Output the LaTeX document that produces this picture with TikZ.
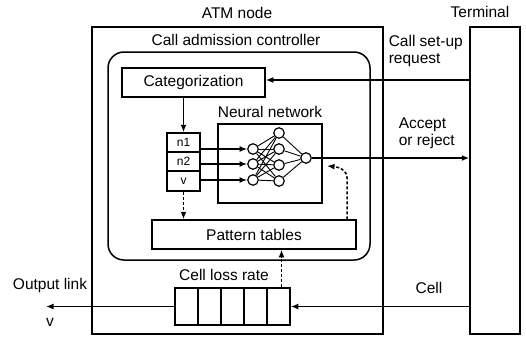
\documentclass[tikz,border=0pt]{standalone}
\usepackage{fontspec}
\setmainfont{Liberation Sans}
\usetikzlibrary{arrows.meta}
\begin{document}
\begin{tikzpicture}[x=1pt,y=-1pt,line width=1.5pt,
  txt/.style={font=\fontsize{15.5}{17}\selectfont,inner sep=0pt},
  small/.style={font=\fontsize{12}{13}\selectfont,inner sep=0pt},
  box/.style={draw,inner sep=0pt,minimum width=#1},
  neuron/.style={draw,circle,minimum size=10.5pt,inner sep=0pt,fill=white,line width=1.2pt},
  arr/.style={-{Latex[length=7.5pt,width=6pt]}},
  dsh/.style={dash pattern=on 3pt off 2pt},
  link/.style={line width=0.9pt}]
\useasboundingbox (0,0) rectangle (526,340);

% enclosing blocks
\node[box=291pt,minimum height=307pt] (atm) at (237.5,180.5) {};
\node[box=262pt,minimum height=208pt,rounded corners=16pt] (cac) at (239,156) {};
\node[box=50pt,minimum height=307pt] (term) at (495,180.5) {};

% titles
\node[txt] (atmlbl) at (237,13) {ATM node};
\node[txt] (caclbl) at (236,40) {Call admission controller};
\node[txt] (termlbl) at (480,12) {Terminal};

% inner blocks
\node[box=143pt,minimum height=29pt,txt] (cat) at (193.5,82.5) {Categorization};
\node[box=104pt,minimum height=79pt] (nn) at (270,163.5) {};
\node[txt] (nnlbl) at (270,112) {Neural network};
\node[box=204pt,minimum height=29pt,txt] (pat) at (254,234.5) {Pattern tables};

% parameter register
\node[box=33pt,minimum height=19pt,small] (reg1) at (183.5,142.5) {n1};
\node[box=33pt,minimum height=19pt,small] (reg2) at (183.5,161.5) {n2};
\node[box=33pt,minimum height=20pt,small] (reg3) at (183.5,181) {v};

% neural network
\node[neuron] (in1) at (253,149) {};
\node[neuron] (in2) at (253,164) {};
\node[neuron] (in3) at (253,180) {};
\node[neuron] (hd1) at (279,133) {};
\node[neuron] (hd2) at (279,149) {};
\node[neuron] (hd3) at (279,165) {};
\node[neuron] (hd4) at (279,181) {};
\node[neuron] (out) at (306,158) {};
\foreach \i in {1,2,3}{
  \foreach \h in {1,2,3,4}{
    \draw[link] (in\i) -- (hd\h);
  }
}
\foreach \h in {1,2,3,4}{
  \draw[link] (hd\h) -- (out);
}

% cell buffer
\foreach \k/\x in {1/186.5,2/209.5,3/232.5,4/255.5,5/278.5}{
  \node[box=23pt,minimum height=37pt] (q\k) at (\x,306.5) {};
}
\node[txt] (cllbl) at (224,275) {Cell loss rate};

% side labels
\node[txt,anchor=north west,align=left] (reqlbl) at (388,35) {Call set-up\\request};
\node[txt,anchor=north west,align=left] (acclbl) at (398,117) {Accept\\or reject};
\node[txt] (celllbl) at (429,288) {Cell};
\node[txt] (outlbl) at (50,285) {Output link};
\node[txt] (vlbl) at (50,322) {v};

% helper points
\coordinate (req) at (0,80);
\coordinate (outend) at (46,306.5);
\coordinate (fb) at (347,178);
\coordinate (nnret) at (327,166);

% solid flows
\draw[arr] (term.west |- req) -- (cat.east |- req);
\draw[arr] (cat.south -| reg1.north) -- (reg1.north);
\draw[arr] (in1 -| reg1.east) -- (in1);
\draw[arr] (in2 -| reg2.east) -- (in2);
\draw[arr] (in3 -| reg3.east) -- (in3);
\draw[arr] (out) -- (term.west |- out);
\draw[arr] (term.west |- q5.east) -- (q5.east);
\draw[arr] (q1.west) -- (outend);

% dashed flows
\draw[arr,dsh] (reg3.south) -- (reg3.south |- pat.north);
\draw[arr,dsh] ([xshift=3pt]q5.north) -- ([xshift=3pt]q5.north |- pat.south);
\draw[arr,dsh] (fb |- pat.north) -- (fb) .. controls (347,170) and (339,167) .. (nnret);
\end{tikzpicture}
\end{document}
